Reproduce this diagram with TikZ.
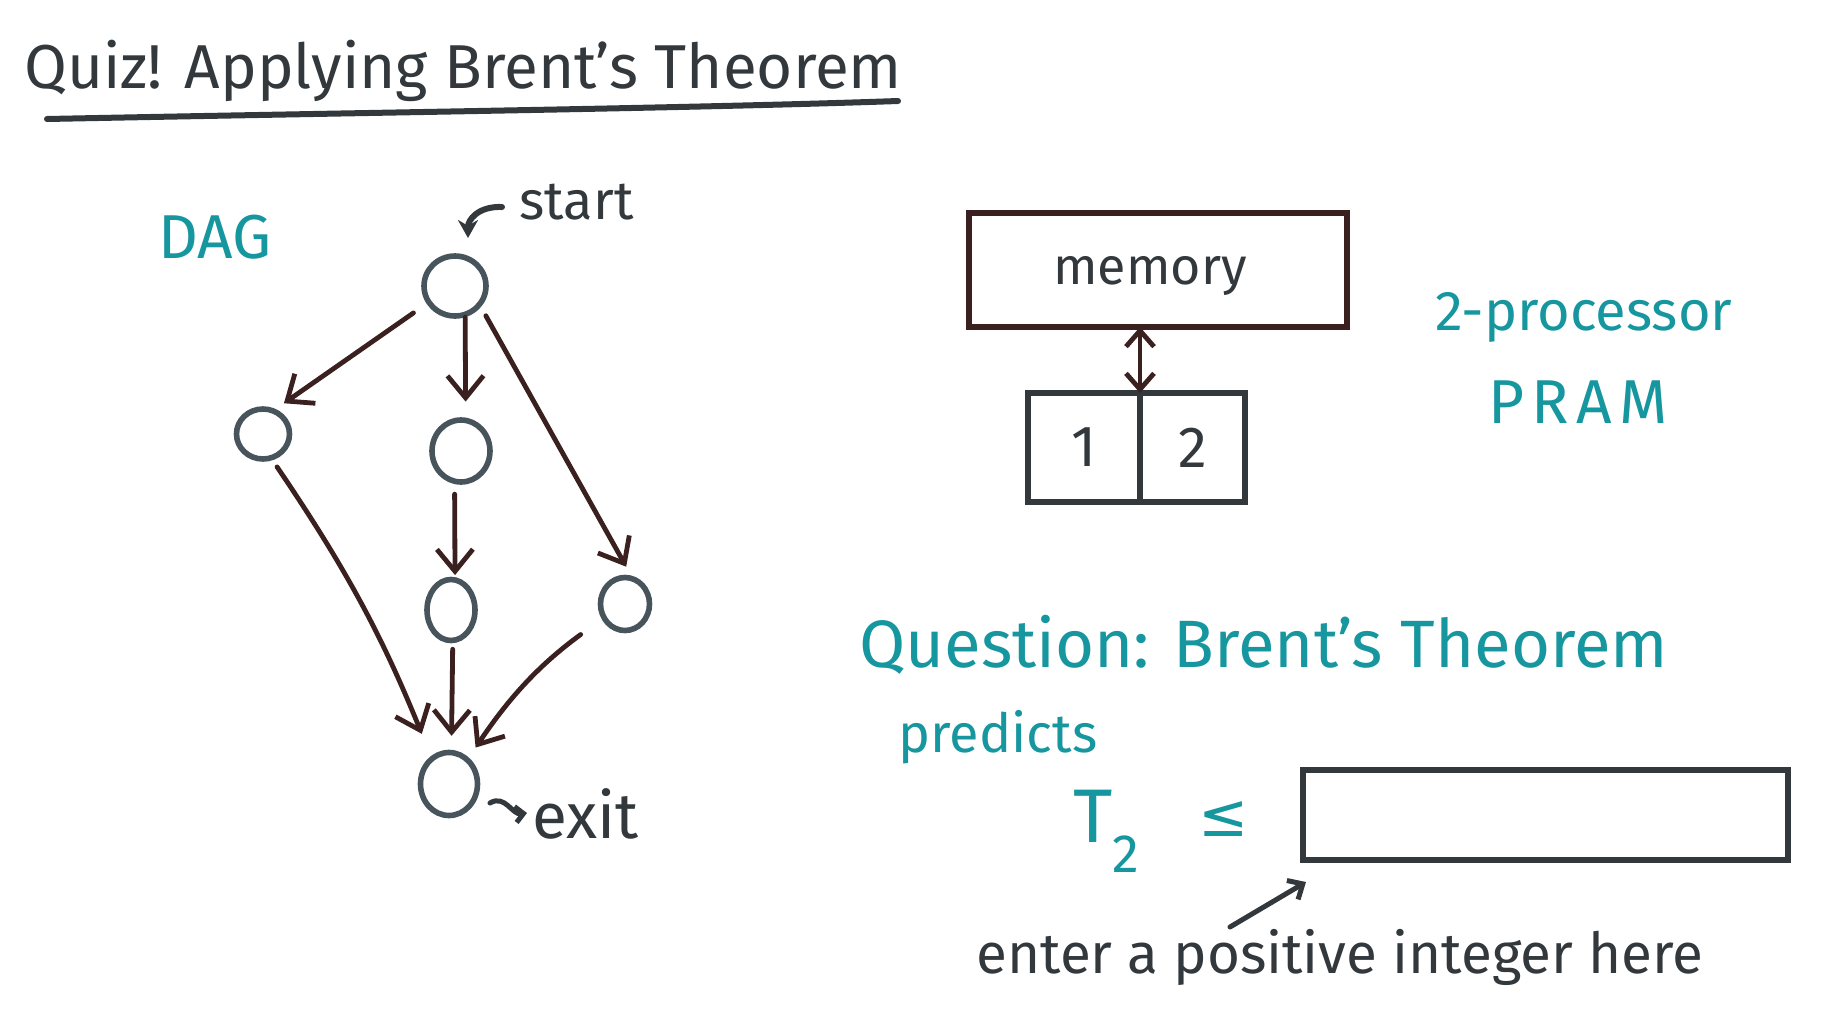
\documentclass[tikz,border=0pt]{standalone}
\usepackage{fontspec}
\setmainfont{Fira Sans}
\newfontfamily\symfont{DejaVu Sans}
\usetikzlibrary{arrows.meta,shapes.geometric}
\definecolor{teal}{RGB}{22,150,158}
\definecolor{ink}{RGB}{50,56,60}
\definecolor{nodegray}{RGB}{72,84,92}
\definecolor{brown}{RGB}{58,32,30}
\tikzset{
  dagnode/.style={draw=nodegray,line width=2.8pt,ellipse,inner sep=0pt},
  arr/.style={draw=brown,line width=2.4pt,line cap=round,-{Straight Barb[length=11pt,width=18pt,line width=2.4pt]}},
  lbl/.style={inner sep=0pt,text=ink},
  tlbl/.style={inner sep=0pt,text=teal},
  fs/.style={font=\fontsize{#1}{#1}\selectfont},
  boxn/.style={line width=2.8pt,outer sep=0pt,inner sep=0pt}
}
\begin{document}
\begin{tikzpicture}[x=0.5pt,y=-0.5pt]
\useasboundingbox[fill=white] (0,0) rectangle (1828,1013);
% title
\node[lbl,fs=31pt,anchor=base west] (title) at (24,88) {Quiz! Applying Brent's Theorem};
\coordinate (ul1) at (47,119);
\coordinate (ul2) at (898,101);
\draw[ink,line width=3pt,line cap=round] (ul1) .. controls (400,112) and (700,108) .. (ul2);
% DAG
\node[tlbl,fs=31pt] (dag) at (215,237) {DAG};
\node[lbl,fs=27pt,anchor=base west] (start) at (519,219) {start};
\node[dagnode,minimum width=62pt*0.5,minimum height=60pt*0.5] (top) at (455,286) {};
\node[dagnode,minimum width=53pt*0.5,minimum height=50pt*0.5] (left) at (263,434) {};
\node[dagnode,minimum width=58pt*0.5,minimum height=62pt*0.5] (mid) at (461,451) {};
\node[dagnode,minimum width=48pt*0.5,minimum height=61pt*0.5] (mid2) at (451,610) {};
\node[dagnode,minimum width=49pt*0.5,minimum height=53pt*0.5] (right) at (625,604) {};
\node[dagnode,minimum width=57pt*0.5,minimum height=63pt*0.5] (bot) at (449,784) {};
\node[lbl,fs=32pt,anchor=base west] (exit) at (532,838) {exit};
% start arrow
\coordinate (sa) at (502,207);
\coordinate (se) at (468,238);
\draw[ink,line width=3pt,line cap=round,-{Stealth[length=9pt,width=10pt]}] (sa) .. controls (478,206) and (468,220) .. (se);
% exit squiggle
\coordinate (xa) at (490,803);
\coordinate (xe) at (527,813);
\draw[ink,line width=2.5pt,line cap=round,-{Straight Barb[length=4pt,width=8pt]}] (xa) .. controls (505,794) and (512,815) .. (xe);
% DAG edges
\draw[arr,shorten <=8pt,shorten >=5pt] (top.-148) -- (left.63);
\draw[arr,shorten >=8pt] (top.-72) -- (mid.82);
\draw[arr,shorten <=5pt,shorten >=5pt] (top.-39) -- (right.78);
\draw[arr,shorten <=4pt,shorten >=12pt] (left.-70) to[bend left=6] (bot.123);
\draw[arr,shorten <=5pt,shorten >=1pt] (mid.-101) -- (mid2.83);
\draw[arr,shorten <=3pt,shorten >=7pt] (mid2.-87) -- (bot.86);
\draw[arr,shorten <=13pt,shorten >=6pt] (right.-147) to[bend right=10] (bot.53);
% memory / processors
\node[draw=brown,boxn,minimum width=189pt,minimum height=57pt] (memory) at (1158,270) {};
\node[lbl,fs=26pt,anchor=base] (memtext) at (1150,284) {memory};
\node[draw=ink,boxn,minimum width=56pt,minimum height=54.5pt,lbl,fs=29pt,anchor=east] (p1) at (1140,447.5) {1};
\node[draw=ink,boxn,minimum width=52.5pt,minimum height=54.5pt,lbl,fs=29pt,anchor=west] (p2) at (1140,447.5) {2};
\draw[brown,line width=2.4pt,line cap=round,{Straight Barb[length=8pt,width=14pt]}-{Straight Barb[length=8pt,width=14pt]}] (memory.south -| p1.east) -- (p1.north east);
\node[tlbl,fs=28pt,anchor=base west] (twoproc) at (1435,330) {2-processor};
\node[tlbl,fs=31pt,anchor=base west] (pram) at (1488,423) {\addfontfeatures{LetterSpace=12}PRAM};
% question
\node[tlbl,fs=33.5pt,anchor=base west] (question) at (859,667) {Question: Brent's Theorem};
\node[tlbl,fs=27pt,anchor=base west] (predicts) at (898,752) {predicts};
\node[tlbl,fs=38pt,anchor=base west] (t2) at (1073,842) {T\raisebox{-0.4em}{\fontsize{27pt}{27pt}\selectfont 2}};
\node[tlbl,fs=30pt] (leq) at (1224,819) {\symfont ≤};
\node[draw=ink,boxn,line width=3pt,minimum width=242.5pt,minimum height=45pt] (ans) at (1545,815) {};
\node[lbl,fs=28.3pt,anchor=base west] (enter) at (976,973) {enter a positive integer here};
\coordinate (ea) at (1230,927);
\coordinate (et) at (1306,882);
\draw[ink,line width=2.5pt,line cap=round,-{Straight Barb[length=6pt,width=11pt]}] (ea) -- (et);
\end{tikzpicture}
\end{document}
